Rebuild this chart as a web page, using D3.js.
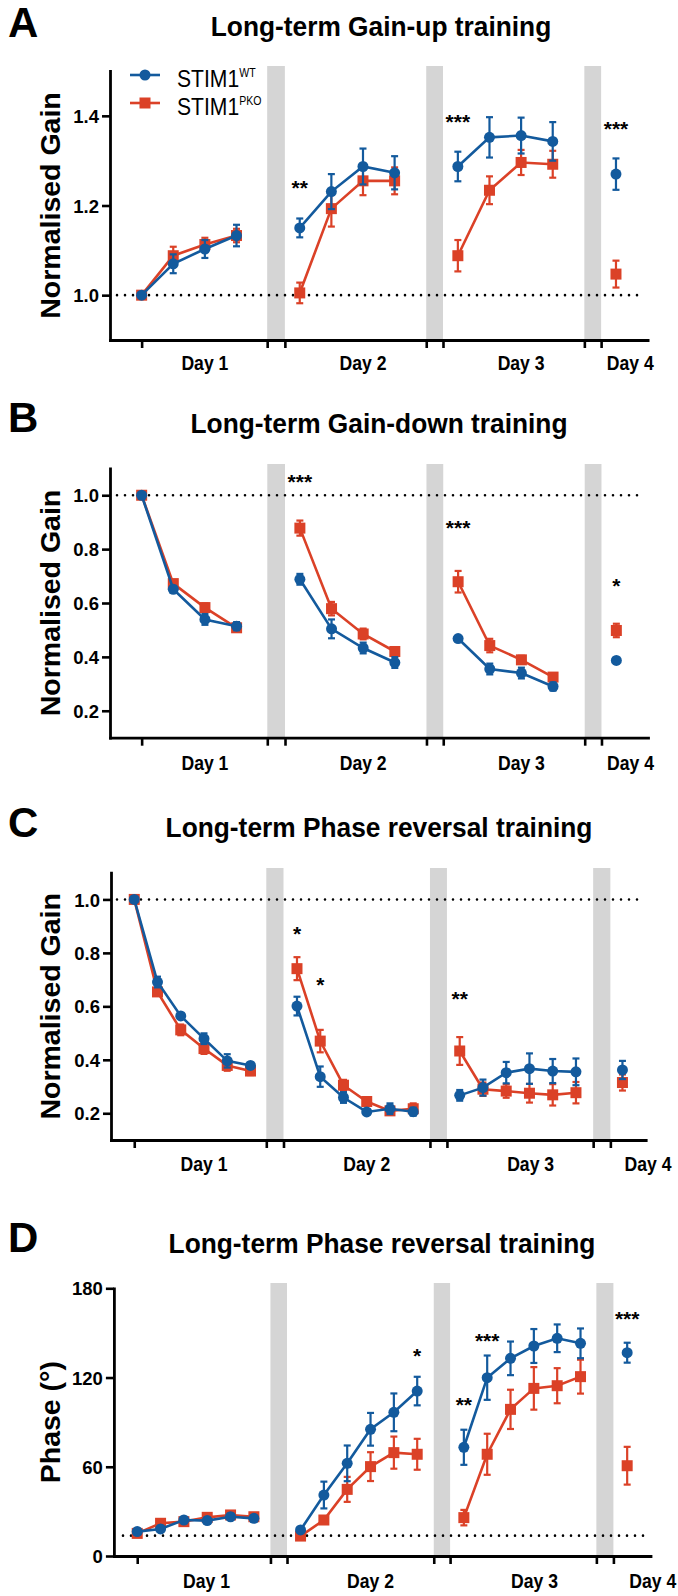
<!DOCTYPE html>
<html><head><meta charset="utf-8">
<script src="https://cdn.jsdelivr.net/npm/d3@7"></script>
<style>body{margin:0;background:#fff} svg{display:block}</style>
</head><body><svg id="c" width="678" height="1596"></svg>
<script>
// ---------- DATA ----------
const dayLabels = ["Day 1", "Day 2", "Day 3", "Day 4"];
const seriesNames = ["STIM1", "STIM1"];
const seriesSup = ["WT", "PKO"];

// Panel A: Long-term Gain-up training
const aStarts = [0, 5, 10, 15];
const aWT    = [[1.000,1.070,1.103,1.133],[1.150,1.231,1.287,1.273],[1.287,1.352,1.356,1.343],[1.270]];
const aWTse  = [[0.000,0.021,0.020,0.024],[0.021,0.039,0.040,0.037],[0.033,0.045,0.040,0.043],[0.035]];
const aPKO   = [[1.000,1.088,1.113,1.133],[1.005,1.193,1.255,1.255],[1.088,1.234,1.296,1.292],[1.047]];
const aPKOse = [[0.000,0.020,0.015,0.015],[0.023,0.040,0.032,0.030],[0.035,0.031,0.028,0.030],[0.030]];
const aGaps = [[3.97,4.53],[9.0,9.53],[14.0,14.53]];
const aDayPos = [2, 7, 12, 15.45];
const aYTicks = [1.0, 1.2, 1.4];
const aSig = [{u:5, v:1.251, t:"**"}, {u:10, v:1.397, t:"***"}, {u:15, v:1.381, t:"***"}];

// Panel B: Long-term Gain-down training
const bStarts = [0, 5, 10, 15];
const bWT    = [[1.000,0.651,0.539,0.514],[0.688,0.504,0.433,0.379],[0.468,0.355,0.340,0.290],[0.387]];
const bWTse  = [[0.005,0.012,0.020,0.015],[0.020,0.035,0.020,0.020],[0.008,0.020,0.020,0.015],[0.008]];
const bPKO   = [[1.000,0.672,0.583,0.508],[0.878,0.579,0.485,0.420],[0.679,0.442,0.389,0.325],[0.498]];
const bPKOse = [[0.005,0.010,0.015,0.010],[0.028,0.025,0.020,0.015],[0.040,0.025,0.015,0.010],[0.025]];
const bGaps = [[3.97,4.53],[9.0,9.53],[14.0,14.53]];
const bDayPos = [2, 7, 12, 15.45];
const bYTicks = [0.2, 0.4, 0.6, 0.8, 1.0];
const bSig = [{u:5, v:1.069, t:"***"}, {u:10, v:0.898, t:"***"}, {u:15, v:0.683, t:"*"}];

// Panel C: Long-term Phase reversal training (gain)
const cStarts = [0, 7, 14, 21];
const cWT    = [[1.000,0.691,0.564,0.479,0.396,0.379],[0.601,0.337,0.259,0.205,0.217,0.206],[0.267,0.296,0.352,0.367,0.358,0.355],[0.362]];
const cWTse  = [[0.005,0.020,0.010,0.020,0.025,0.010],[0.035,0.038,0.020,0.010,0.020,0.015],[0.020,0.030,0.040,0.057,0.045,0.050],[0.034]];
const cPKO   = [[1.000,0.654,0.512,0.442,0.379,0.358],[0.741,0.470,0.305,0.244,0.209,0.217],[0.433,0.290,0.283,0.275,0.269,0.277],[0.315]];
const cPKOse = [[0.005,0.015,0.020,0.020,0.020,0.015],[0.043,0.042,0.020,0.015,0.015,0.020],[0.052,0.025,0.025,0.035,0.040,0.040],[0.030]];
const cGaps = [[5.68,6.42],[12.72,13.45],[19.74,20.48]];
const cDayPos = [3, 10, 17.05, 22.1];
const cYTicks = [0.2, 0.4, 0.6, 0.8, 1.0];
const cSig = [{u:7, v:0.888, t:"*"}, {u:8, v:0.699, t:"*"}, {u:14, v:0.646, t:"**"}];

// Panel D: Long-term Phase reversal training (phase)
const dStarts = [0, 7, 14, 21];
const dWT    = [[16.4,18.2,24.2,23.8,26.4,25.3],[17.5,41.0,62.3,85.2,96.6,110.9],[73.1,119.9,132.9,141.2,146.4,143.0],[136.7]];
const dWTse  = [[2,2,2,2,2,2],[2,9,12,11,12.7,9.6],[11.8,14.9,11.3,11.4,9.3,10],[6.7]];
const dPKO   = [[15.2,22.0,23.1,26.0,27.6,26.4],[13.4,24.2,44.8,60.1,69.5,68.4],[25.8,68.4,98.6,112.7,114.5,120.6],[60.7]];
const dPKOse = [[1.5,1.5,1.5,1.5,1.5,1.5],[1.5,2.5,8.4,9.7,10.8,10.4],[5.2,13.8,13.2,14.3,11.8,11.4],[12.7]];
const dGaps = [[5.71,6.42],[12.71,13.41],[19.68,20.41]];
const dDayPos = [2.97, 10, 17.03, 22.1];
const dYTicks = [0, 60, 120, 180];
const dSig = [{u:12, v:138, t:"*"}, {u:14, v:104.9, t:"**"}, {u:15, v:148.1, t:"***"}, {u:21, v:162.7, t:"***"}];

// ---------- DRAWING ----------
const BLUE = "#135a9d", RED = "#db4127", GRAY = "#d5d5d5";
const FONT = '"Liberation Sans", Arial, Helvetica, sans-serif';
const svg = d3.select("#c");

function txt(g, x, y, s, size, o = {}) {
  return g.append("text")
    .attr("transform", `translate(${x},${y})` + (o.rot ? ` rotate(${o.rot})` : "") + ` scale(${o.sx || 1},1)`)
    .attr("text-anchor", o.anchor || "start")
    .attr("font-family", FONT)
    .attr("font-size", size)
    .attr("font-weight", o.weight || "bold")
    .attr("fill", "#000")
    .text(s);
}

const panels = [
  {letter:"A", title:"Long-term Gain-up training", ylabel:"Normalised Gain",
   starts:aStarts, wt:aWT, wtSe:aWTse, pko:aPKO, pkoSe:aPKOse, gaps:aGaps, dayPos:aDayPos, yTicks:aYTicks, sig:aSig,
   xDom:[-1,16], xRange:[110,647.6], yDom:[0.9,1.5], yRange:[340,71], ref:1.0, fmt:d3.format(".1f"),
   grayTop:66, titleY:36, titleX:381, letterY:37, dayY:370, dotX:[117,645], legend:true},
  {letter:"B", title:"Long-term Gain-down training", ylabel:"Normalised Gain",
   starts:bStarts, wt:bWT, wtSe:bWTse, pko:bPKO, pkoSe:bPKOse, gaps:bGaps, dayPos:bDayPos, yTicks:bYTicks, sig:bSig,
   xDom:[-1,16], xRange:[110,648], yDom:[0.1,1.1], yRange:[737.7,468.3], ref:1.0, fmt:d3.format(".1f"),
   grayTop:464, titleY:433, titleX:379, letterY:432, dayY:770, dotX:[117,645]},
  {letter:"C", title:"Long-term Phase reversal training", ylabel:"Normalised Gain",
   starts:cStarts, wt:cWT, wtSe:cWTse, pko:cPKO, pkoSe:cPKOse, gaps:cGaps, dayPos:cDayPos, yTicks:cYTicks, sig:cSig,
   xDom:[-1,22], xRange:[111,645.7], yDom:[0.1,1.1], yRange:[1140,872.7], ref:1.0, fmt:d3.format(".1f"),
   grayTop:868, titleY:836.7, titleX:379, letterY:837, dayY:1171, dotX:[117,645]},
  {letter:"D", title:"Long-term Phase reversal training", ylabel:"Phase (°)",
   starts:dStarts, wt:dWT, wtSe:dWTse, pko:dPKO, pkoSe:dPKOse, gaps:dGaps, dayPos:dDayPos, yTicks:dYTicks, sig:dSig,
   xDom:[-1,22], xRange:[113.9,650.5], yDom:[0,180], yRange:[1556,1288.3], ref:13.7, fmt:d3.format("d"),
   grayTop:1283, titleY:1253, titleX:382, letterY:1252, dayY:1588, dotX:[123,648]}
];

panels.forEach(p => {
  const g = svg.append("g");
  const x = d3.scaleLinear().domain(p.xDom).range(p.xRange);
  const y = d3.scaleLinear().domain(p.yDom).range(p.yRange);
  const yBottom = p.yRange[0];

  // gray gap bars
  g.selectAll("rect.gap").data(p.gaps).join("rect").attr("class","gap")
    .attr("x", d => x(d[0])).attr("width", d => x(d[1]) - x(d[0]))
    .attr("y", p.grayTop).attr("height", yBottom - p.grayTop).attr("fill", GRAY);

  // dotted reference
  g.append("line").attr("x1", p.dotX[0]).attr("x2", p.dotX[1]).attr("y1", y(p.ref)).attr("y2", y(p.ref))
    .attr("stroke", "#000").attr("stroke-width", 2.6).attr("stroke-dasharray", "0,8").attr("stroke-linecap", "round");

  // series
  const series = [
    {m:p.pko, se:p.pkoSe, col:RED, shape:"square"},
    {m:p.wt, se:p.wtSe, col:BLUE, shape:"circle"}
  ];
  series.forEach(s => {
    s.m.forEach((day, di) => {
      const pts = day.map((v, i) => ({u: p.starts[di] + i, v, e: s.se[di][i]}));
      if (pts.length > 1) {
        g.append("path").datum(pts)
          .attr("d", d3.line().x(d => x(d.u)).y(d => y(d.v)))
          .attr("fill", "none").attr("stroke", s.col).attr("stroke-width", 2.6);
      }
      const eg = g.selectAll(null).data(pts).join("g");
      eg.append("line").attr("x1", d => x(d.u)).attr("x2", d => x(d.u))
        .attr("y1", d => y(d.v - d.e)).attr("y2", d => y(d.v + d.e))
        .attr("stroke", s.col).attr("stroke-width", 2.2);
      [-1, 1].forEach(sg => {
        eg.append("line").attr("x1", d => x(d.u) - 3.5).attr("x2", d => x(d.u) + 3.5)
          .attr("y1", d => y(d.v + sg * d.e)).attr("y2", d => y(d.v + sg * d.e))
          .attr("stroke", s.col).attr("stroke-width", 2.2);
      });
      if (s.shape === "circle") {
        eg.append("circle").attr("cx", d => x(d.u)).attr("cy", d => y(d.v)).attr("r", 5.5).attr("fill", s.col);
      } else {
        eg.append("rect").attr("x", d => x(d.u) - 5.5).attr("y", d => y(d.v) - 5.5)
          .attr("width", 11).attr("height", 11).attr("fill", s.col);
      }
    });
  });

  // axes
  const ya = d3.axisLeft(y).tickValues(p.yTicks).tickFormat(p.fmt).tickSize(8).tickPadding(3).tickSizeOuter(0);
  const yg = g.append("g").attr("transform", `translate(${p.xRange[0]},0)`).call(ya);
  const xa = d3.axisBottom(x).tickValues([0].concat(p.gaps.flat())).tickFormat("").tickSize(8).tickSizeOuter(0);
  const xg = g.append("g").attr("transform", `translate(0,${yBottom})`).call(xa);
  [yg, xg].forEach(ax => {
    ax.attr("font-size", null).attr("font-family", null);
    ax.select(".domain").attr("stroke", "#000").attr("stroke-width", 2.8).attr("stroke-linecap", "square");
    ax.selectAll(".tick line").attr("stroke", "#000").attr("stroke-width", 2.6);
  });
  yg.selectAll(".tick text").attr("x", null).attr("dy", null)
    .attr("transform", "translate(-11,6.6)")
    .attr("font-family", FONT).attr("font-size", 18.5).attr("font-weight", "bold").attr("fill", "#000");

  // day labels
  p.dayPos.forEach((u, i) => txt(g, x(u), p.dayY, dayLabels[i], 20, {anchor:"middle", sx:0.88}));

  // significance
  p.sig.forEach(s => txt(g, x(s.u), y(s.v) + 12, s.t, 21, {anchor:"middle"}));

  // titles / letters / y label
  txt(g, p.titleX, p.titleY, p.title, 28, {anchor:"middle", sx:0.94});
  txt(g, 8, p.letterY, p.letter, 42);
  txt(g, 60, (p.yRange[0] + p.yRange[1]) / 2, p.ylabel, 28.5, {anchor:"middle", rot:-90});

  // legend
  if (p.legend) {
    const lg = g.append("g");
    const items = [{col:BLUE, shape:"circle", y:75}, {col:RED, shape:"square", y:103}];
    items.forEach((it, i) => {
      lg.append("line").attr("x1", 130).attr("x2", 160).attr("y1", it.y).attr("y2", it.y)
        .attr("stroke", it.col).attr("stroke-width", 2.6);
      if (it.shape === "circle") lg.append("circle").attr("cx", 145).attr("cy", it.y).attr("r", 5.5).attr("fill", it.col);
      else lg.append("rect").attr("x", 139.5).attr("y", it.y - 5.5).attr("width", 11).attr("height", 11).attr("fill", it.col);
      const t = lg.append("text").attr("transform", `translate(177,${it.y + 12}) scale(0.88,1)`)
        .attr("font-family", FONT).attr("font-size", 24).attr("fill", "#000");
      t.append("tspan").text(seriesNames[i]);
      t.append("tspan").attr("font-size", 12).attr("dy", -10).text(seriesSup[i]);
    });
  }
});
</script></body></html>
